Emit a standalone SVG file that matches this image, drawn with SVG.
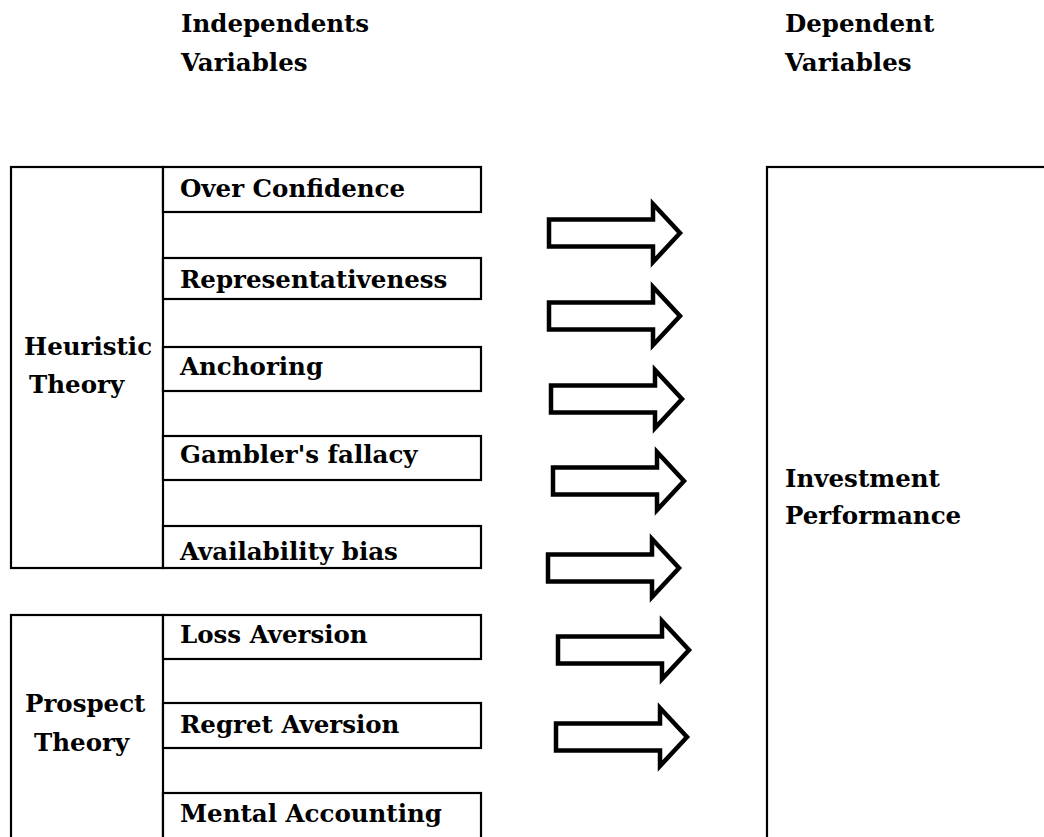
<svg xmlns="http://www.w3.org/2000/svg" width="1044" height="837" viewBox="0 0 1044 837">
<style>
.t{font-family:"DejaVu Serif","Liberation Serif",serif;font-weight:bold;font-size:24.5px;fill:#000}
.b{fill:#fff;stroke:#000;stroke-width:2.2}
.a{fill:#fff;stroke:#000;stroke-width:4.5;stroke-linejoin:miter}
</style>
<defs>
<path id="arr" d="M0,-13.5 H104 V-29 L131,0 L104,29 V13.5 H0 Z"/>
</defs>
<rect width="1044" height="837" fill="#fff"/>
<g id="headers">
<text class="t" x="181" y="32">Independents</text>
<text class="t" x="181" y="71">Variables</text>
<text class="t" x="785" y="32">Dependent</text>
<text class="t" x="785" y="71">Variables</text>
</g>
<g id="heuristic">
<rect class="b" x="11" y="167" width="152" height="401"/>
<text class="t" x="24" y="355">Heuristic</text>
<text class="t" x="29" y="393">Theory</text>
</g>
<g id="over-confidence"><rect class="b" x="163" y="167" width="318" height="45"/><text class="t" x="180" y="197">Over Confidence</text></g>
<g id="representativeness"><rect class="b" x="163" y="258" width="318" height="41"/><text class="t" x="180" y="288">Representativeness</text></g>
<g id="anchoring"><rect class="b" x="163" y="347" width="318" height="44"/><text class="t" x="180" y="375">Anchoring</text></g>
<g id="gamblers-fallacy"><rect class="b" x="163" y="436" width="318" height="44"/><text class="t" x="180" y="463">Gambler's fallacy</text></g>
<g id="availability-bias"><rect class="b" x="163" y="526" width="318" height="42"/><text class="t" x="180" y="560">Availability bias</text></g>
<g id="prospect">
<rect class="b" x="11" y="615" width="152" height="240"/>
<text class="t" x="25" y="712">Prospect</text>
<text class="t" x="34" y="751">Theory</text>
</g>
<g id="loss-aversion"><rect class="b" x="163" y="615" width="318" height="44"/><text class="t" x="180" y="643">Loss Aversion</text></g>
<g id="regret-aversion"><rect class="b" x="163" y="703" width="318" height="45"/><text class="t" x="180" y="733">Regret Aversion</text></g>
<g id="mental-accounting"><rect class="b" x="163" y="793" width="318" height="60"/><text class="t" x="180" y="822">Mental Accounting</text></g>
<g id="investment-performance">
<rect class="b" x="767" y="167" width="300" height="700"/>
<text class="t" x="785" y="487">Investment</text>
<text class="t" x="785" y="524">Performance</text>
</g>
<g id="connectors">
<use href="#arr" class="a" transform="translate(549,233)"/>
<use href="#arr" class="a" transform="translate(549,316)"/>
<use href="#arr" class="a" transform="translate(551,399)"/>
<use href="#arr" class="a" transform="translate(553,481)"/>
<use href="#arr" class="a" transform="translate(548,568)"/>
<use href="#arr" class="a" transform="translate(558,650)"/>
<use href="#arr" class="a" transform="translate(556,737)"/>
</g>
</svg>
